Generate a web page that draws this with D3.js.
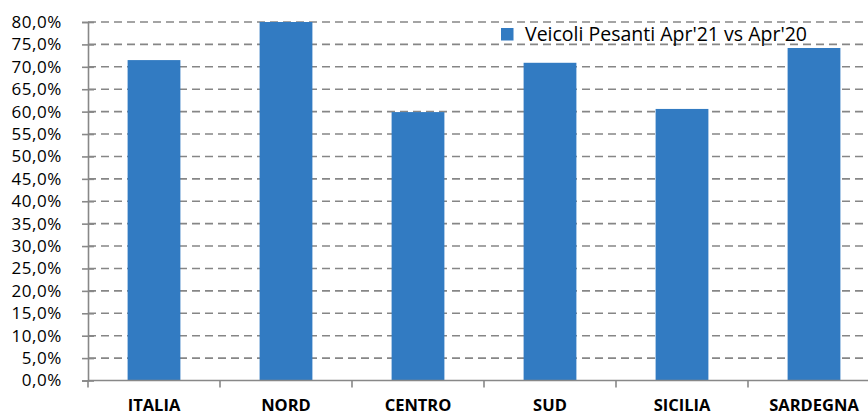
<!DOCTYPE html>
<html>
<head>
<meta charset="utf-8">
<script src="https://cdn.jsdelivr.net/npm/d3@7"></script>
<style>
body { margin: 0; background: #fff; }
svg { display: block; font-family: "Open Sans", "Liberation Sans", Arial, sans-serif; }
</style>
</head>
<body>
<svg id="chart" width="868" height="416"></svg>
<script>
var categories = ["ITALIA", "NORD", "CENTRO", "SUD", "SICILIA", "SARDEGNA"];
var values = [71.5, 80.0, 59.9, 70.9, 60.6, 74.2];
var yTicks = d3.range(0, 80.1, 5);
var seriesName = "Veicoli Pesanti Apr'21 vs Apr'20";

var svg = d3.select("#chart");
var plotLeft = 88, plotRight = 880, plotTop = 22, plotBottom = 380.5;

var x = d3.scaleBand().domain(categories).range([plotLeft, plotRight]).paddingInner(0.6).paddingOuter(0.3);
var y = d3.scaleLinear().domain([0, 80]).range([plotBottom, plotTop]);

// gridlines
svg.append("g")
    .selectAll("line")
    .data(yTicks.filter(function(d) { return d > 0; }))
    .enter()
    .append("line")
    .attr("x1", plotLeft).attr("x2", 868)
    .attr("y1", function(d) { return y(d); })
    .attr("y2", function(d) { return y(d); })
    .attr("stroke", "#868686")
    .attr("stroke-width", 1.6)
    .attr("stroke-dasharray", "8,5");

// bars
svg.append("g")
    .selectAll("rect")
    .data(values)
    .enter()
    .append("rect")
    .attr("x", function(d, i) { return x(categories[i]); })
    .attr("width", x.bandwidth())
    .attr("y", function(d) { return y(d); })
    .attr("height", function(d) { return plotBottom - y(d); })
    .attr("fill", "#327BC2");

// y axis
var yAxis = svg.append("g")
    .attr("transform", "translate(" + plotLeft + ",0)")
    .call(d3.axisLeft(y).tickValues(yTicks).tickSize(6).tickPadding(20)
        .tickFormat(function(d) { return d.toFixed(1).replace(".", ",") + "%"; }));
yAxis.select(".domain").attr("stroke", "#888").attr("stroke-width", 1.6);
yAxis.selectAll(".tick line").attr("stroke", "#888").attr("stroke-width", 1.6).attr("x2", 6).attr("x1", -6);
yAxis.selectAll("text").attr("font-size", 17).attr("fill", "#000")
    .attr("letter-spacing", 0.6)
    .attr("font-family", "Open Sans, Liberation Sans, Arial, sans-serif");

// x axis
var step = x.step();
var xTicks = d3.range(0, categories.length + 1).map(function(i) { return plotLeft + i * step; });
svg.append("line")
    .attr("x1", plotLeft).attr("x2", 868)
    .attr("y1", plotBottom).attr("y2", plotBottom)
    .attr("stroke", "#888").attr("stroke-width", 1.6);
svg.append("g")
    .selectAll("line")
    .data(xTicks)
    .enter()
    .append("line")
    .attr("x1", function(d) { return d; })
    .attr("x2", function(d) { return d; })
    .attr("y1", plotBottom).attr("y2", plotBottom + 7)
    .attr("stroke", "#888").attr("stroke-width", 1.6);
svg.append("g")
    .selectAll("text")
    .data(categories)
    .enter()
    .append("text")
    .attr("x", function(d) { return x(d) + x.bandwidth() / 2; })
    .attr("y", 411)
    .attr("text-anchor", "middle")
    .attr("font-size", 16.5)
    .attr("font-weight", "bold")
    .text(function(d) { return d; });

// legend
var lg = svg.append("g").attr("transform", "translate(501,28)");
lg.append("rect").attr("x", -6).attr("y", -3).attr("width", 330).attr("height", 16).attr("fill", "#fff");
lg.append("rect").attr("width", 12.5).attr("height", 12.5).attr("fill", "#327BC2");
lg.append("text").attr("x", 24).attr("y", 13).attr("font-size", 19.5).attr("fill", "#000").text(seriesName);
</script>
</body>
</html>
